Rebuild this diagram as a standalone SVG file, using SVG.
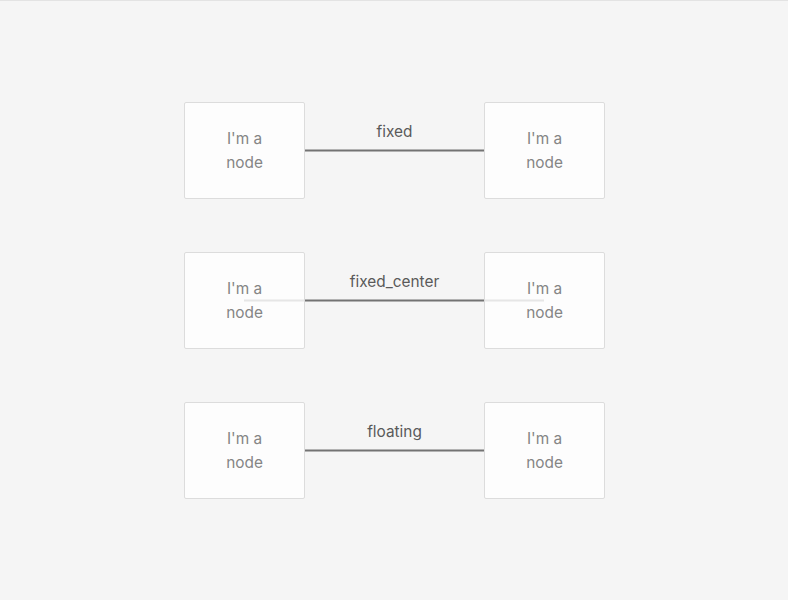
<svg xmlns="http://www.w3.org/2000/svg" width="788" height="600" viewBox="0 0 788 600">
<style>
.bg{fill:#f5f5f5}
.node rect{fill:#fdfdfd;stroke:#dcdcdc;stroke-width:1}
.node text{font-family:Inter,"Noto Sans",sans-serif;font-size:15.4px;fill:#858585;text-anchor:middle}
.edge{stroke:#737373;stroke-width:2;fill:none}
.ghost{stroke:#e6e6e6;stroke-width:2;fill:none}
.lbl{font-family:Inter,"Noto Sans",sans-serif;font-size:15.4px;fill:#5a5a5a;text-anchor:middle}
</style>
<rect class="bg" x="0" y="0" width="788" height="600"/>
<line x1="0" y1="0.5" x2="788" y2="0.5" stroke="#e3e3e3" stroke-width="1"/>
<g id="connectors">
  <line class="edge" x1="305" y1="150.5" x2="484" y2="150.5"/>
  <text class="lbl" x="394.5" y="137">fixed</text>
  <line class="edge" x1="305" y1="300.5" x2="484" y2="300.5"/>
  <text class="lbl" x="394.5" y="287">fixed_center</text>
  <line class="edge" x1="305" y1="450.5" x2="484" y2="450.5"/>
  <text class="lbl" x="394.5" y="437">floating</text>
</g>
<g id="n1" class="node"><rect x="184.5" y="102.5" width="120" height="96" rx="1.5"/><text x="244.5" y="144">I'm a</text><text x="244.5" y="168">node</text></g>
<g id="n2" class="node"><rect x="484.5" y="102.5" width="120" height="96" rx="1.5"/><text x="544.5" y="144">I'm a</text><text x="544.5" y="168">node</text></g>
<g id="n3" class="node"><rect x="184.5" y="252.5" width="120" height="96" rx="1.5"/><text x="244.5" y="294">I'm a</text><text x="244.5" y="318">node</text></g>
<g id="n4" class="node"><rect x="484.5" y="252.5" width="120" height="96" rx="1.5"/><text x="544.5" y="294">I'm a</text><text x="544.5" y="318">node</text></g>
<g id="n5" class="node"><rect x="184.5" y="402.5" width="120" height="96" rx="1.5"/><text x="244.5" y="444">I'm a</text><text x="244.5" y="468">node</text></g>
<g id="n6" class="node"><rect x="484.5" y="402.5" width="120" height="96" rx="1.5"/><text x="544.5" y="444">I'm a</text><text x="544.5" y="468">node</text></g>
<g id="connector-overlay">
  <line class="ghost" x1="244" y1="300.5" x2="304" y2="300.5"/>
  <line class="ghost" x1="485" y1="300.5" x2="544" y2="300.5"/>
</g>
</svg>
